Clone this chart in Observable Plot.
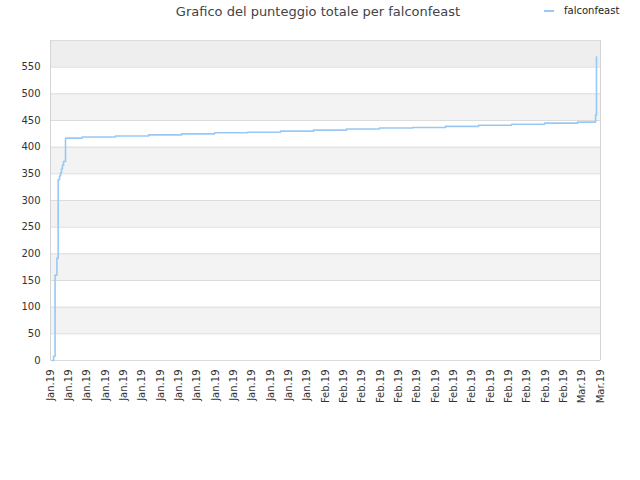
<!DOCTYPE html>
<html>
<head>
<meta charset="utf-8">
<script src="https://cdn.jsdelivr.net/npm/d3@7"></script>
<script src="https://cdn.jsdelivr.net/npm/@observablehq/plot@0.6"></script>
<style>
  html, body { margin: 0; padding: 0; background: #fff; }
  #wrap { position: relative; width: 640px; height: 480px; font-family: "DejaVu Sans", sans-serif; }
  #title { position: absolute; left: 0; top: 4px; width: 636px; text-align: center; font-size: 13px; color: #444; }
  #legend { position: absolute; left: 544px; top: 5px; font-size: 10px; color: #222; display: flex; align-items: center; }
  #legend .sw { width: 10px; height: 2px; background: #99c9f3; margin-right: 10px; }
  #chart { position: absolute; left: 0; top: 0; }
</style>
</head>
<body>
<div id="wrap">
  <div id="chart"></div>
  <div id="title">Grafico del punteggio totale per falconfeast</div>
  <div id="legend"><span class="sw"></span><span>falconfeast</span></div>
</div>
<script>
// x tick labels (one tick every two days, Jan 3 .. Mar 4)
const xTickLabels = [
  "Jan.19","Jan.19","Jan.19","Jan.19","Jan.19","Jan.19","Jan.19","Jan.19",
  "Jan.19","Jan.19","Jan.19","Jan.19","Jan.19","Jan.19","Jan.19",
  "Feb.19","Feb.19","Feb.19","Feb.19","Feb.19","Feb.19","Feb.19",
  "Feb.19","Feb.19","Feb.19","Feb.19","Feb.19","Feb.19","Feb.19",
  "Mar.19","Mar.19"
];
const yTicks = [0,50,100,150,200,250,300,350,400,450,500,550];

// series: position along the axis (tick index units) and total score
const seriesX = [0.1, 0.17, 0.25, 0.35, 0.42, 0.49, 0.55, 0.6, 0.65, 0.71, 0.82,
                 1.73, 3.55, 5.35, 7.15, 8.95, 10.75, 12.55, 14.35, 16.15, 17.95,
                 19.75, 21.55, 23.35, 25.15, 26.95, 28.75, 29.73, 29.78, 29.80];
const seriesY = [0, 8, 160, 192, 339, 346, 352, 359, 366, 373, 417,
                 419, 421, 423, 425, 427, 428, 430, 432, 434, 436,
                 437, 439, 441, 443, 445, 447, 460, 569, 569];

const points = seriesX.map((x, i) => ({x, y: seriesY[i]}));
const bands = [];
for (let i = 1; i < yTicks.length; i += 2) bands.push({y1: yTicks[i], y2: i + 1 < yTicks.length ? yTicks[i + 1] : 600, top: i + 1 >= yTicks.length});

const chart = Plot.plot({
  width: 640,
  height: 480,
  marginLeft: 50,
  marginRight: 40,
  marginTop: 40,
  marginBottom: 120,
  style: {fontFamily: "DejaVu Sans, sans-serif", fontSize: "10px", color: "#333", background: "#fff"},
  x: {domain: [0, xTickLabels.length - 1], ticks: d3.range(xTickLabels.length), tickFormat: i => xTickLabels[i], tickSize: 0, tickPadding: 9, tickRotate: -90, label: null},
  y: {domain: [0, 600], ticks: yTicks, tickSize: 0, tickPadding: 10, label: null},
  marks: [
    Plot.rectY(bands, {x1: 0, x2: xTickLabels.length - 1, y1: "y1", y2: "y2", fill: d => d.top ? "#eeeeee" : "#f3f3f3"}),
    Plot.ruleY(yTicks.concat([600]), {stroke: "#dcdcdc", strokeWidth: 1}),
    Plot.ruleX([0, xTickLabels.length - 1], {stroke: "#d4d4d4", strokeWidth: 1}),
    Plot.line(points, {x: "x", y: "y", curve: "step-after", stroke: "#99c9f3", strokeWidth: 1.6})
  ]
});
document.getElementById("chart").appendChild(chart);
</script>
</body>
</html>
